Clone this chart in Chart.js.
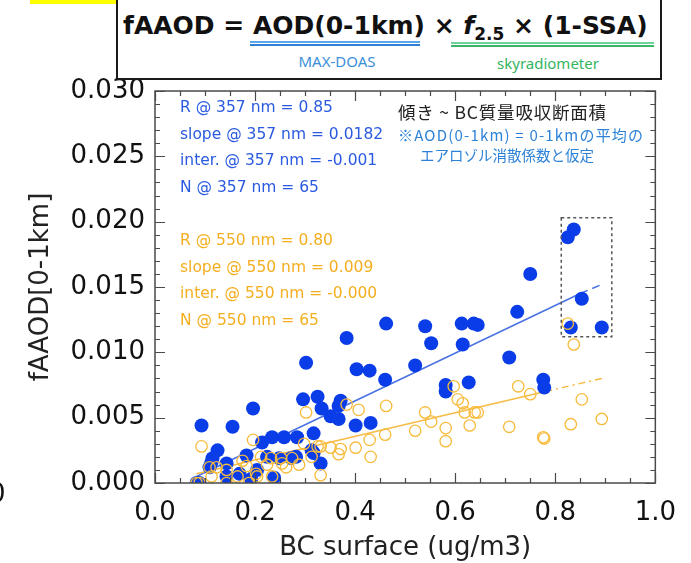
<!DOCTYPE html>
<html>
<head>
<meta charset="utf-8">
<script src="https://cdn.jsdelivr.net/npm/chart.js@4.4.1/dist/chart.umd.min.js"></script>
<style>
  html, body { margin: 0; padding: 0; background: #fff; }
  #wrap { position: relative; width: 691px; height: 563px; overflow: hidden; background: #fff; }
  #c { position: absolute; left: 0; top: 0; }
  .ov { position: absolute; white-space: nowrap; }
  .ann { font-family: "DejaVu Sans", sans-serif; font-size: 15.5px; line-height: 26.5px; left: 180px; }
  .jp { font-family: "Noto Sans CJK JP", sans-serif; }
</style>
</head>
<body>
<div id="wrap">
  <canvas id="c" width="691" height="563"></canvas>

  <div class="ov" style="left:30px;top:0;width:171px;height:4px;background:#ffff00;"></div>
  <div class="ov" style="left:116px;top:-4px;width:546px;height:84px;border:2px solid #1a1a1a;box-sizing:border-box;background:#fff;"></div>
  <div class="ov" id="formula" style="left:123px;top:10px;font-family:'DejaVu Sans',sans-serif;font-weight:bold;font-size:25px;line-height:32px;color:#111;">fAAOD = AOD(0-1km) × <i>f</i><sub style="font-size:17px;">2.5</sub> × (1-SSA)</div>
  <div class="ov" style="left:250px;top:41px;width:170px;height:1.5px;background:#5aa6ea;"></div>
  <div class="ov" style="left:250px;top:44px;width:170px;height:1.5px;background:#2f7fd6;"></div>
  <div class="ov" style="left:451px;top:42px;width:203px;height:1.5px;background:#6ed39a;"></div>
  <div class="ov" style="left:451px;top:45px;width:203px;height:1.5px;background:#3cb46a;"></div>
  <div class="ov" style="left:287px;top:52px;width:100px;text-align:center;font-family:'Noto Sans',sans-serif;font-size:15px;line-height:18px;color:#3b8fd9;">MAX-DOAS</div>
  <div class="ov" style="left:488px;top:54px;width:120px;text-align:center;font-family:'Noto Sans',sans-serif;font-size:15px;line-height:18px;color:#33b561;">skyradiometer</div>

  <div class="ov ann" id="annBlue" style="top:94px;color:#2a5ae0;"></div>
  <div class="ov ann" id="annOrange" style="top:227px;color:#f4ae1f;"></div>

  <div class="ov jp" style="left:398px;top:102px;font-size:17.5px;line-height:20px;letter-spacing:0.8px;color:#222;">傾き ~ BC質量吸収断面積</div>
  <div class="ov jp" style="left:398px;top:126px;font-size:15px;line-height:18px;letter-spacing:1.2px;color:#2d82d7;">※AOD(0-1km) = 0-1kmの平均の</div>
  <div class="ov jp" style="left:420px;top:146px;font-size:14.5px;line-height:18px;color:#2d82d7;">エアロゾル消散係数と仮定</div>

  <div class="ov" style="left:-11px;top:478px;font-family:'DejaVu Sans',sans-serif;font-size:26px;line-height:30px;color:#111;">0</div>
</div>

<script>
// ---------- data ----------
const xTickValues = [0.0, 0.2, 0.4, 0.6, 0.8, 1.0];
const xTickLabels = ['0.0', '0.2', '0.4', '0.6', '0.8', '1.0'];
const yTickValues = [0.000, 0.005, 0.010, 0.015, 0.020, 0.025, 0.030];
const yTickLabels = ['0.000', '0.005', '0.010', '0.015', '0.020', '0.025', '0.030'];
const xTitle = 'BC surface (ug/m3)';
const yTitle = 'fAAOD[0-1km]';

// 357 nm (filled blue)
const blueX = [0.837,0.825,0.750,0.853,0.724,0.645,0.831,0.893,0.708,0.776,0.778,0.462,0.540,0.613,0.637,0.383,0.552,0.615,0.302,0.403,0.429,0.520,0.460,0.581,0.581,0.627,0.296,0.325,0.333,0.371,0.367,0.351,0.367,0.401,0.431,0.317,0.313,0.317,0.331,0.196,0.093,0.155,0.125,0.115,0.113,0.143,0.183,0.214,0.234,0.258,0.284,0.224,0.248,0.272,0.282,0.109,0.204,0.143,0.169,0.192,0.238,0.083,0.089];
const blueY = [0.0194,0.0188,0.0160,0.0141,0.0131,0.0121,0.0119,0.0119,0.0096,0.0079,0.0073,0.0122,0.0120,0.0122,0.0122,0.0111,0.0107,0.0106,0.0092,0.0087,0.0086,0.0090,0.0079,0.0075,0.0070,0.0077,0.0064,0.0066,0.0057,0.0063,0.0059,0.0051,0.0049,0.0044,0.0046,0.0038,0.0025,0.0023,0.0015,0.0057,0.0044,0.0043,0.0025,0.0019,0.0016,0.0015,0.0021,0.0031,0.0035,0.0035,0.0035,0.0020,0.0019,0.0019,0.0020,0.0012,0.0010,0.0005,0.0007,0.0003,0.0004,0.0000,0.0000];

// 550 nm (open orange)
const orangeX = [0.825,0.837,0.726,0.750,0.853,0.708,0.776,0.778,0.831,0.893,0.645,0.383,0.407,0.462,0.597,0.605,0.615,0.619,0.639,0.540,0.552,0.520,0.581,0.581,0.629,0.460,0.429,0.401,0.431,0.371,0.367,0.351,0.331,0.331,0.302,0.298,0.288,0.093,0.196,0.325,0.313,0.109,0.123,0.143,0.175,0.183,0.212,0.232,0.252,0.274,0.254,0.262,0.224,0.202,0.204,0.165,0.234,0.083,0.089,0.143,0.188,0.113];
const orangeY = [0.0122,0.0106,0.0074,0.0068,0.0064,0.0043,0.0035,0.0034,0.0045,0.0049,0.0054,0.0060,0.0056,0.0059,0.0074,0.0064,0.0061,0.0054,0.0054,0.0054,0.0047,0.0040,0.0042,0.0032,0.0044,0.0037,0.0033,0.0027,0.0020,0.0026,0.0022,0.0027,0.0028,0.0006,0.0054,0.0030,0.0014,0.0028,0.0033,0.0028,0.0020,0.0012,0.0012,0.0010,0.0017,0.0013,0.0020,0.0019,0.0019,0.0019,0.0015,0.0012,0.0014,0.0007,0.0005,0.0005,0.0005,0.0000,0.0000,0.0000,0.0000,0.0005];

// regression lines (solid part, dashed extension)
const fitBlueSolidX = [0.083, 0.850];
const fitBlueSolidY = [0.0005, 0.0145];
const fitBlueDashX = [0.850, 0.893];
const fitBlueDashY = [0.0145, 0.0152];
const fitOrangeSolidX = [0.083, 0.780];
const fitOrangeSolidY = [0.0007, 0.0070];
const fitOrangeDashX = [0.780, 0.893];
const fitOrangeDashY = [0.0070, 0.0080];

// highlighted region (x0, x1, y0, y1)
const boxRegion = [0.812, 0.913, 0.0112, 0.0203];

const statsBlue = ['R @ 357 nm = 0.85', 'slope @ 357 nm = 0.0182', 'inter. @ 357 nm = -0.001', 'N @ 357 nm = 65'];
const statsOrange = ['R @ 550 nm = 0.80', 'slope @ 550 nm = 0.009', 'inter. @ 550 nm = -0.000', 'N @ 550 nm = 65'];

// ---------- text ----------
document.getElementById('annBlue').innerHTML = statsBlue.join('<br>');
document.getElementById('annOrange').innerHTML = statsOrange.join('<br>');

// ---------- chart ----------
const pts = (xs, ys) => xs.map((x, i) => ({ x: x, y: ys[i] }));
const FONT = '"DejaVu Sans", sans-serif';

const frameTicks = {
  id: 'frameTicks',
  afterDraw(chart) {
    const { ctx, chartArea: a, scales: { x, y } } = chart;
    ctx.save();
    ctx.strokeStyle = '#4a4a4a';
    ctx.lineWidth = 1.2;
    const xMinor = 0.05, xMajor = 0.2, yMinor = 0.001, yMajor = 0.005;
    for (let k = 0; k <= Math.round((x.max - x.min) / xMinor); k++) {
      const v = x.min + k * xMinor;
      const px = Math.round(x.getPixelForValue(v)) + 0.5;
      const isMaj = Math.abs(v / xMajor - Math.round(v / xMajor)) < 1e-6;
      const L = isMaj ? 10 : 5;
      ctx.beginPath();
      ctx.moveTo(px, a.bottom); ctx.lineTo(px, a.bottom - L);
      ctx.moveTo(px, a.top); ctx.lineTo(px, a.top + L);
      ctx.stroke();
    }
    for (let k = 0; k <= Math.round((y.max - y.min) / yMinor); k++) {
      const v = y.min + k * yMinor;
      const py = Math.round(y.getPixelForValue(v)) + 0.5;
      const isMaj = Math.abs(v / yMajor - Math.round(v / yMajor)) < 1e-6;
      const L = isMaj ? 10 : 5;
      ctx.beginPath();
      ctx.moveTo(a.left, py); ctx.lineTo(a.left + L, py);
      ctx.moveTo(a.right, py); ctx.lineTo(a.right - L, py);
      ctx.stroke();
    }
    ctx.lineWidth = 1.5;
    ctx.strokeRect(a.left, a.top, a.right - a.left, a.bottom - a.top);
    // dotted highlight box
    const bx0 = x.getPixelForValue(boxRegion[0]), bx1 = x.getPixelForValue(boxRegion[1]);
    const by0 = y.getPixelForValue(boxRegion[2]), by1 = y.getPixelForValue(boxRegion[3]);
    ctx.setLineDash([3, 3]);
    ctx.strokeStyle = '#555';
    ctx.lineWidth = 1.5;
    ctx.strokeRect(bx0, by1, bx1 - bx0, by0 - by1);
    ctx.restore();
  }
};

new Chart(document.getElementById('c'), {
  type: 'scatter',
  data: {
    datasets: [
      { type: 'line', data: pts(fitBlueSolidX, fitBlueSolidY), borderColor: '#4a72e2', borderWidth: 1.5, pointRadius: 0, fill: false, order: 5 },
      { type: 'line', data: pts(fitBlueDashX, fitBlueDashY), borderColor: '#4a72e2', borderWidth: 1.5, borderDash: [8, 5], pointRadius: 0, fill: false, order: 5 },
      { type: 'line', data: pts(fitOrangeSolidX, fitOrangeSolidY), borderColor: '#f6bb45', borderWidth: 1.5, pointRadius: 0, fill: false, order: 4 },
      { type: 'line', data: pts(fitOrangeDashX, fitOrangeDashY), borderColor: '#f6bb45', borderWidth: 1.5, borderDash: [7, 4, 2, 4], pointRadius: 0, fill: false, order: 4 },
      { label: '357 nm', data: pts(blueX, blueY), pointRadius: 7, pointBackgroundColor: '#0a3de8', pointBorderWidth: 0, borderColor: '#0a3de8', clip: 0, order: 2 },
      { label: '550 nm', data: pts(orangeX, orangeY), pointRadius: 5.7, pointBackgroundColor: 'rgba(0,0,0,0)', pointBorderColor: '#f7bb3c', pointBorderWidth: 1.3, clip: 0, order: 1 }
    ]
  },
  options: {
    responsive: false,
    devicePixelRatio: 1,
    animation: false,
    events: [],
    layout: { padding: { top: 91, right: 32, bottom: 0, left: 0 } },
    plugins: { legend: { display: false }, tooltip: { enabled: false } },
    scales: {
      x: {
        type: 'linear', min: 0, max: 1,
        afterFit(s) { s.height = 80; },
        afterBuildTicks(s) { s.ticks = xTickValues.map(v => ({ value: v })); },
        ticks: { callback: (v, i) => xTickLabels[i], font: { family: FONT, size: 26, lineHeight: 1.2 }, color: '#111', padding: 15, maxRotation: 0, autoSkip: false },
        grid: { display: false, drawTicks: false },
        border: { display: false },
        title: { display: true, text: xTitle, font: { family: FONT, size: 26, lineHeight: 1 }, color: '#222', padding: { top: 0, bottom: 2 } }
      },
      y: {
        type: 'linear', min: 0, max: 0.03,
        afterFit(s) { s.width = 155; },
        afterBuildTicks(s) { s.ticks = yTickValues.map(v => ({ value: v })); },
        ticks: { callback: (v, i) => yTickLabels[i], font: { family: FONT, size: 26, lineHeight: 1.2 }, color: '#111', padding: 10, autoSkip: false },
        grid: { display: false, drawTicks: false },
        border: { display: false },
        title: { display: true, text: yTitle, font: { family: FONT, size: 26, lineHeight: 1 }, color: '#222', padding: { top: 28, bottom: 0 } }
      }
    }
  },
  plugins: [frameTicks]
});
</script>
</body>
</html>
